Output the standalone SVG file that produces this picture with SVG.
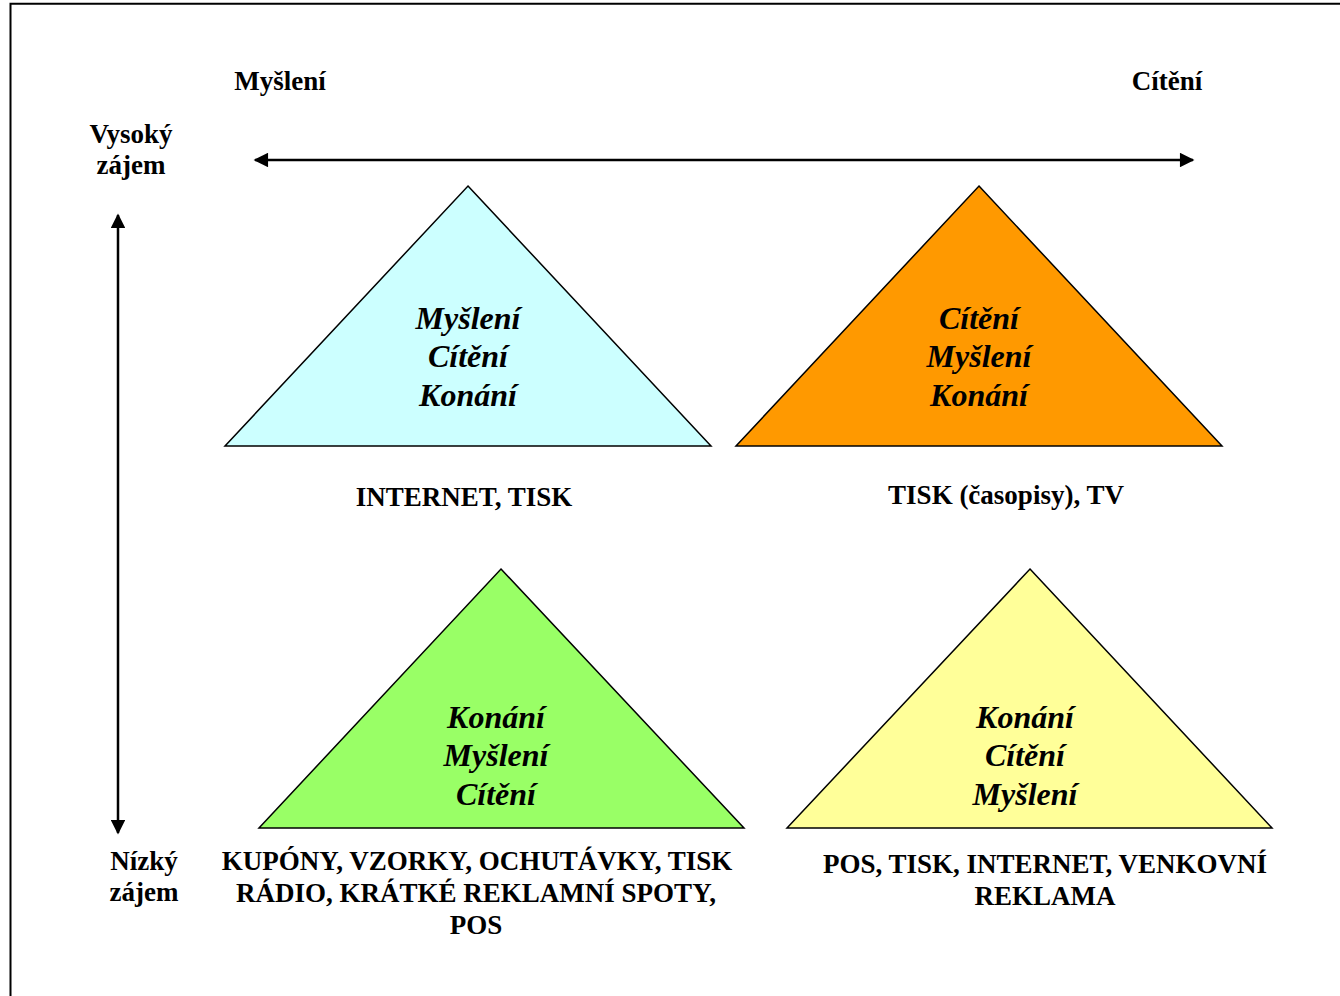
<svg xmlns="http://www.w3.org/2000/svg" width="1340" height="996" viewBox="0 0 1340 996">
<style>
.lbl{font-family:"Liberation Serif","Times New Roman",serif;font-weight:bold;font-size:27px;fill:#000;text-anchor:middle}
.tri{stroke:#000;stroke-width:1.5}
.in{font-family:"Liberation Serif","Times New Roman",serif;font-weight:bold;font-style:italic;font-size:32px;fill:#000;text-anchor:middle}
.ax{stroke:#000;stroke-width:2.5;fill:none}
</style>
<defs>
<marker id="ah" viewBox="0 0 10 10" refX="9" refY="5" markerWidth="6.6" markerHeight="5.8" markerUnits="strokeWidth" orient="auto-start-reverse">
<path d="M0,0 L10,5 L0,10 Z" fill="#000"/>
</marker>
</defs>
<rect width="1340" height="996" fill="#fff"/>
<path d="M10.5,996 V3.8 H1340" stroke="#000" stroke-width="2" fill="none"/>
<g id="axes">
<line class="ax" x1="255" y1="160" x2="1193" y2="160" marker-start="url(#ah)" marker-end="url(#ah)"/>
<line class="ax" x1="118" y1="215" x2="118" y2="833" marker-start="url(#ah)" marker-end="url(#ah)"/>
</g>
<g id="axis-labels">
<text class="lbl" x="280" y="90">Myšlení</text>
<text class="lbl" x="1167" y="90">Cítění</text>
<text class="lbl" x="131" y="143">Vysoký</text>
<text class="lbl" x="131" y="174">zájem</text>
<text class="lbl" x="144" y="870">Nízký</text>
<text class="lbl" x="144" y="901">zájem</text>
</g>
<g id="tri-tl">
<polygon class="tri" points="468,186 711,446 225,446" fill="#CCFFFF"/>
<text class="in" x="468" y="329">Myšlení</text>
<text class="in" x="468" y="367">Cítění</text>
<text class="in" x="468" y="406">Konání</text>
<text class="lbl" x="464" y="506">INTERNET, TISK</text>
</g>
<g id="tri-tr">
<polygon class="tri" points="979,186 1222,446 736,446" fill="#FF9900"/>
<text class="in" x="979" y="329">Cítění</text>
<text class="in" x="979" y="367">Myšlení</text>
<text class="in" x="979" y="406">Konání</text>
<text class="lbl" x="1006" y="504">TISK (časopisy), TV</text>
</g>
<g id="tri-bl">
<polygon class="tri" points="501,569 744,828 259,828" fill="#99FF66"/>
<text class="in" x="496" y="728">Konání</text>
<text class="in" x="496" y="766">Myšlení</text>
<text class="in" x="496" y="805">Cítění</text>
<text class="lbl" x="477" y="870">KUPÓNY, VZORKY, OCHUTÁVKY, TISK</text>
<text class="lbl" x="476" y="902">RÁDIO, KRÁTKÉ REKLAMNÍ SPOTY,</text>
<text class="lbl" x="476" y="934">POS</text>
</g>
<g id="tri-br">
<polygon class="tri" points="1030,569 1272,828 787,828" fill="#FFFF99"/>
<text class="in" x="1025" y="728">Konání</text>
<text class="in" x="1025" y="766">Cítění</text>
<text class="in" x="1025" y="805">Myšlení</text>
<text class="lbl" x="1045" y="873">POS, TISK, INTERNET, VENKOVNÍ</text>
<text class="lbl" x="1045" y="905">REKLAMA</text>
</g>
</svg>
